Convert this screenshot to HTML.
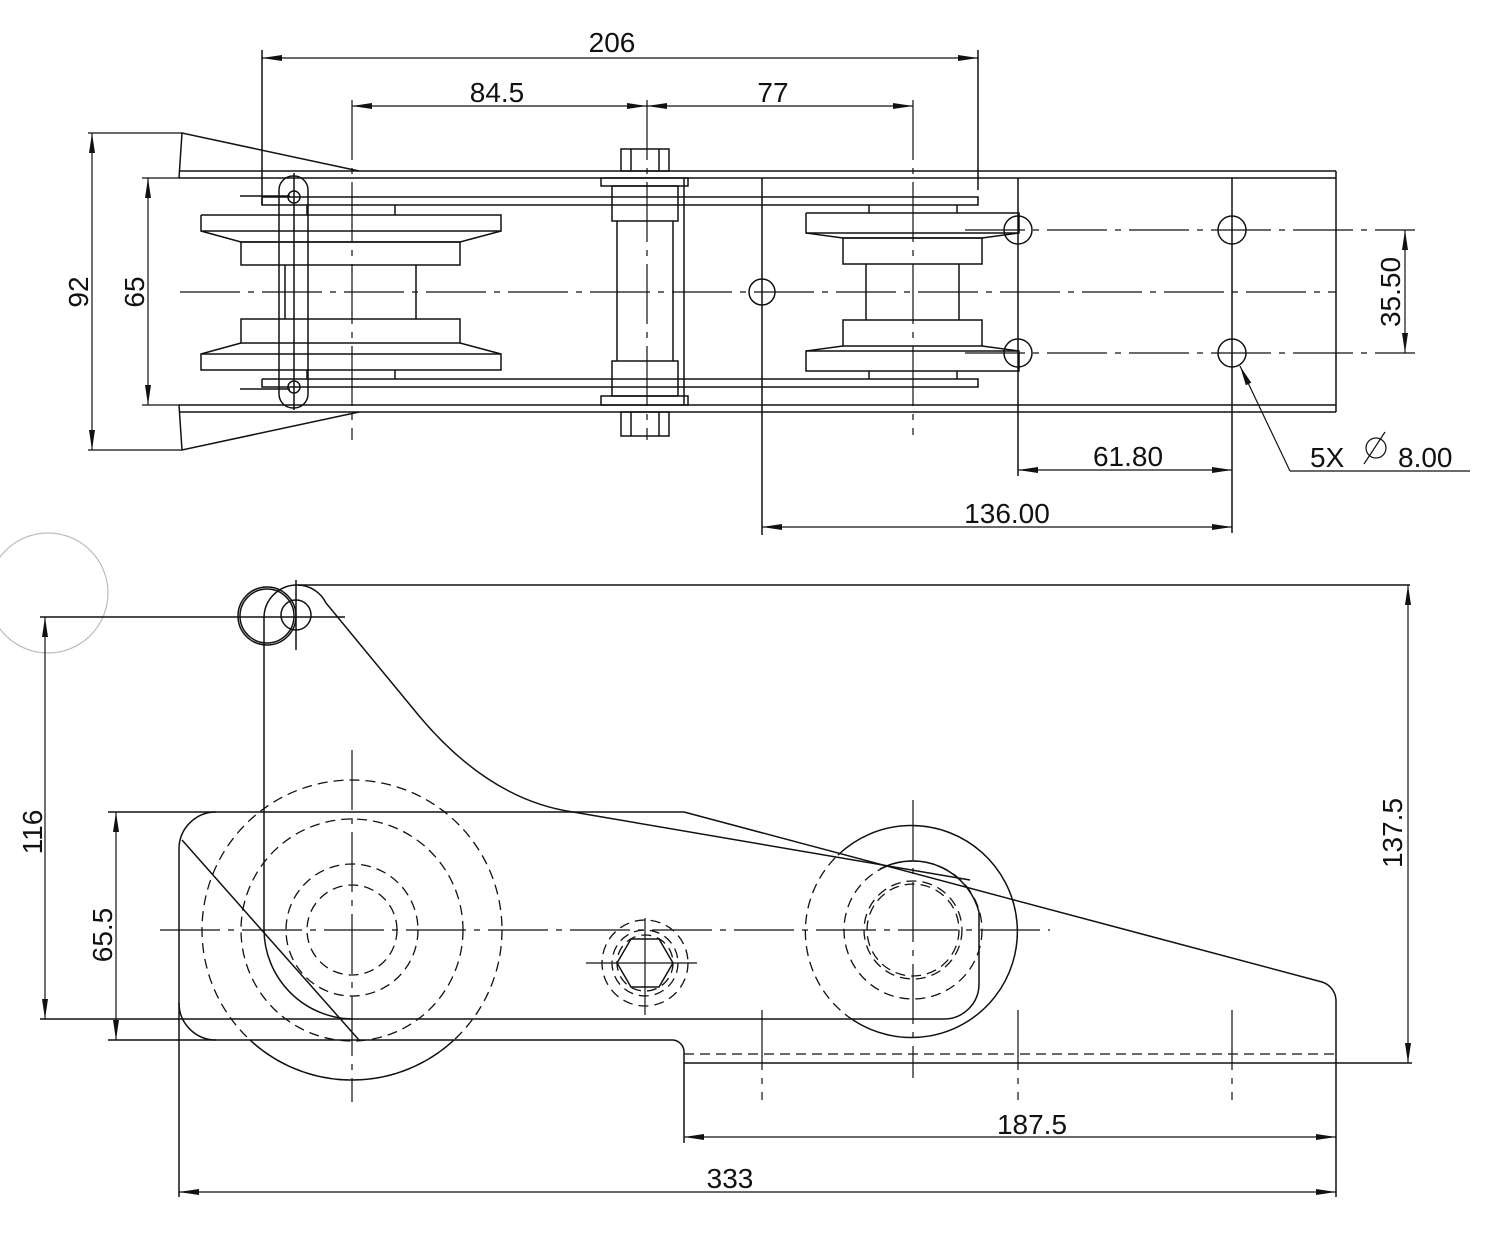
<!DOCTYPE html>
<html><head><meta charset="utf-8"><style>
html,body{margin:0;padding:0;background:#fff}
svg{display:block}
text{font-family:"Liberation Sans",sans-serif;font-size:28px;fill:#111}
</style></head><body>
<svg width="1500" height="1250" viewBox="0 0 1500 1250" xmlns="http://www.w3.org/2000/svg">
<defs>
<marker id="a" viewBox="0 0 20 6" refX="20" refY="3" markerWidth="20" markerHeight="6" markerUnits="userSpaceOnUse" orient="auto-start-reverse"><path d="M0,0 L20,3 L0,6 z" fill="#111"/></marker>
</defs>
<g fill="none" stroke="#111" stroke-width="1.5">
<!-- ===== TOP VIEW ===== -->
<!-- outer plates -->
<line x1="179" y1="171" x2="1336" y2="171"/>
<line x1="179" y1="178" x2="1336" y2="178"/>
<line x1="179" y1="405" x2="1336" y2="405"/>
<line x1="179" y1="412" x2="1336" y2="412"/>
<line x1="1336" y1="171" x2="1336" y2="412"/>
<!-- wedges -->
<polyline points="359,171 182,133 179,178"/>
<polyline points="359,412 182,450 179,405"/>
<!-- inner plates -->
<polyline points="262,197 978,197 978,205 262,205 262,197"/>
<polyline points="262,379 978,379 978,387 262,387 262,379"/>
<!-- left roller -->
<line x1="307" y1="205" x2="307" y2="215"/><line x1="395" y1="205" x2="395" y2="215"/>
<line x1="307" y1="370" x2="307" y2="379"/><line x1="395" y1="370" x2="395" y2="379"/>
<polyline points="201,215 501,215 501,231 460,242 241,242 201,231 201,215"/>
<line x1="201" y1="231" x2="501" y2="231"/>
<rect x="241" y="242" width="219" height="23"/>
<line x1="285" y1="265" x2="285" y2="319"/><line x1="416" y1="265" x2="416" y2="319"/>
<rect x="241" y="319" width="219" height="24"/>
<polyline points="241,343 201,354 201,370 501,370 501,354 460,343"/>
<line x1="201" y1="354" x2="501" y2="354"/>
<!-- slot link -->
<rect x="279" y="176" width="29" height="232" rx="14"/>
<circle cx="294" cy="197" r="6"/><circle cx="294" cy="387" r="6"/>
<line x1="240" y1="196" x2="290" y2="196"/><line x1="240" y1="389" x2="290" y2="389"/>
<line x1="294" y1="173" x2="294" y2="410"/>
<!-- bolt -->
<rect x="621" y="149" width="48" height="22"/><line x1="631" y1="149" x2="631" y2="171"/><line x1="659" y1="149" x2="659" y2="171"/>
<rect x="601" y="178" width="87" height="8"/>
<rect x="612" y="186" width="66" height="35"/>
<line x1="617" y1="221" x2="617" y2="361"/><line x1="673" y1="221" x2="673" y2="361"/>
<rect x="612" y="361" width="66" height="35"/>
<rect x="601" y="396" width="87" height="9"/>
<rect x="621" y="412" width="48" height="24"/><line x1="631" y1="412" x2="631" y2="436"/><line x1="659" y1="412" x2="659" y2="436"/>
<line x1="684" y1="178" x2="684" y2="405"/>
<!-- right roller -->
<line x1="869" y1="205" x2="869" y2="213"/><line x1="957" y1="205" x2="957" y2="213"/>
<line x1="869" y1="371" x2="869" y2="379"/><line x1="957" y1="371" x2="957" y2="379"/>
<polyline points="806,213 1019,213 1019,233 982,238 843,238 806,233 806,213"/>
<line x1="806" y1="233" x2="1019" y2="233"/>
<rect x="843" y="238" width="139" height="26"/>
<line x1="866" y1="264" x2="866" y2="320"/><line x1="959" y1="264" x2="959" y2="320"/>
<rect x="843" y="320" width="139" height="26"/>
<polyline points="843,346 806,351 806,371 1019,371 1019,351 982,346"/>
<line x1="806" y1="351" x2="1019" y2="351"/>
<!-- holes -->
<circle cx="762" cy="292" r="13"/>
<circle cx="1018" cy="230" r="14"/><circle cx="1018" cy="353" r="14"/>
<circle cx="1232" cy="230" r="14"/><circle cx="1232" cy="353" r="14"/>
<!-- verticals -->
<line x1="762" y1="178" x2="762" y2="535"/>
<line x1="1018" y1="178" x2="1018" y2="476"/>
<line x1="1232" y1="178" x2="1232" y2="533"/>
<line x1="262" y1="50" x2="262" y2="205"/>
<line x1="978" y1="50" x2="978" y2="190"/>
</g>
<!-- center lines top -->
<g fill="none" stroke="#111" stroke-width="1.2" stroke-dasharray="60,8,6,8">
<line x1="180" y1="292" x2="1336" y2="292"/>
<line x1="965" y1="230" x2="1415" y2="230"/>
<line x1="965" y1="353" x2="1415" y2="353"/>
<line x1="352" y1="100" x2="352" y2="440"/>
<line x1="647" y1="100" x2="647" y2="440"/>
<line x1="913" y1="100" x2="913" y2="435"/>
</g>
<!-- top dimensions -->
<g fill="none" stroke="#111" stroke-width="1.2">
<line x1="262" y1="58" x2="978" y2="58" marker-start="url(#a)" marker-end="url(#a)"/>
<line x1="352" y1="106" x2="647" y2="106" marker-start="url(#a)" marker-end="url(#a)"/>
<line x1="647" y1="106" x2="913" y2="106" marker-start="url(#a)" marker-end="url(#a)"/>
<line x1="88" y1="133" x2="182" y2="133"/><line x1="88" y1="450" x2="182" y2="450"/>
<line x1="92" y1="133" x2="92" y2="450" marker-start="url(#a)" marker-end="url(#a)"/>
<line x1="142" y1="178" x2="180" y2="178"/><line x1="142" y1="405" x2="180" y2="405"/>
<line x1="148" y1="178" x2="148" y2="405" marker-start="url(#a)" marker-end="url(#a)"/>
<line x1="1405" y1="230" x2="1405" y2="353" marker-start="url(#a)" marker-end="url(#a)"/>
<line x1="1018" y1="470" x2="1232" y2="470" marker-start="url(#a)" marker-end="url(#a)"/>
<line x1="762" y1="527" x2="1232" y2="527" marker-start="url(#a)" marker-end="url(#a)"/>
<line x1="1290" y1="471" x2="1240" y2="366" marker-end="url(#a)"/>
<line x1="1290" y1="471" x2="1470" y2="471"/>
<line x1="1364" y1="464" x2="1385" y2="432"/>
<circle cx="1376" cy="448" r="10"/>
</g>
<text x="612" y="52" text-anchor="middle">206</text>
<text x="497" y="102" text-anchor="middle">84.5</text>
<text x="773" y="102" text-anchor="middle">77</text>
<text x="1128" y="466" text-anchor="middle">61.80</text>
<text x="1007" y="523" text-anchor="middle">136.00</text>
<text x="1310" y="467">5X</text>
<text x="1398" y="467">8.00</text>
<text transform="translate(88,292) rotate(-90)" text-anchor="middle">92</text>
<text transform="translate(144,292) rotate(-90)" text-anchor="middle">65</text>
<text transform="translate(1400,292) rotate(-90)" text-anchor="middle">35.50</text>

<!-- ===== SIDE VIEW ===== -->
<circle cx="48" cy="593" r="60" fill="none" stroke="#bbb" stroke-width="1.2"/>
<g fill="none" stroke="#111" stroke-width="1.5">
<!-- lug and upper profile -->
<path d="M264,930 L264,617 A33,33 0 0 1 298,585 L1410,585"/>
<path d="M298,585 A32,32 0 0 1 326,603 L420,717 Q490,800 573,812 L970,880"/>
<circle cx="296" cy="615" r="15"/>
<circle cx="267" cy="616" r="29"/><circle cx="267" cy="616" r="27"/>
<path d="M264,930 A90,90 0 0 0 352,1019"/>
<line x1="40" y1="617" x2="345" y2="617"/>
<line x1="296" y1="580" x2="296" y2="650"/>
<!-- plate -->
<path d="M684,812 L216,812 A37,37 0 0 0 179,849 L179,1003 A37,37 0 0 0 216,1040 L673,1040 A12,12 0 0 1 684,1052 L684,1063 L1336,1063 L1336,1000 A20,20 0 0 0 1322,982 L684,812"/>
<line x1="108" y1="812" x2="216" y2="812"/>
<line x1="108" y1="1040" x2="216" y2="1040"/>
<path d="M40,1019 L944,1019 A35,35 0 0 0 979,984 L979,912"/>
<path d="M979,912 A69,69 0 0 0 880,869"/>
<line x1="182" y1="840" x2="359" y2="1040"/>
<!-- left hub arcs -->
<path d="M250,1040 A150,150 0 0 0 454,1040"/>
<!-- right hub -->
<path d="M838,855 A106,106 0 1 1 853,1020"/>
<!-- hex -->
<polygon points="617,963 631,939 659,939 673,963 659,987 631,987"/>
<!-- extensions -->
<line x1="179" y1="1003" x2="179" y2="1197"/>
<line x1="1336" y1="1063" x2="1336" y2="1197"/>
<line x1="684" y1="1063" x2="684" y2="1143"/>
<line x1="1336" y1="1063" x2="1412" y2="1063"/>
</g>
<g fill="none" stroke="#111" stroke-width="1.3" stroke-dasharray="10,6">
<circle cx="352" cy="930" r="150"/>
<circle cx="352" cy="930" r="111"/>
<circle cx="352" cy="930" r="66"/>
<circle cx="352" cy="930" r="45"/>
<path d="M853,1020 A106,106 0 0 1 838,855"/>
<circle cx="913" cy="930" r="69"/>
<circle cx="913" cy="930" r="49"/>
<circle cx="913" cy="930" r="46"/>
<circle cx="645" cy="963" r="43"/>
<circle cx="645" cy="963" r="33"/>
<circle cx="645" cy="963" r="28"/>
<line x1="684" y1="1054" x2="1336" y2="1054"/>
</g>
<g fill="none" stroke="#111" stroke-width="1.2" stroke-dasharray="60,8,6,8">
<line x1="160" y1="930" x2="1050" y2="930"/>
<line x1="352" y1="750" x2="352" y2="1102"/>
<line x1="913" y1="800" x2="913" y2="1078"/>
<line x1="762" y1="1010" x2="762" y2="1100"/>
<line x1="1018" y1="1010" x2="1018" y2="1100"/>
<line x1="1232" y1="1010" x2="1232" y2="1100"/>
</g>
<g fill="none" stroke="#111" stroke-width="1.2">
<line x1="586" y1="963" x2="697" y2="963"/>
<line x1="645" y1="918" x2="645" y2="1015"/>
<line x1="45" y1="617" x2="45" y2="1019" marker-start="url(#a)" marker-end="url(#a)"/>
<line x1="116" y1="812" x2="116" y2="1040" marker-start="url(#a)" marker-end="url(#a)"/>
<line x1="1408" y1="585" x2="1408" y2="1063" marker-start="url(#a)" marker-end="url(#a)"/>
<line x1="684" y1="1137" x2="1336" y2="1137" marker-start="url(#a)" marker-end="url(#a)"/>
<line x1="179" y1="1192" x2="1336" y2="1192" marker-start="url(#a)" marker-end="url(#a)"/>
</g>
<text x="1032" y="1134" text-anchor="middle">187.5</text>
<text x="730" y="1188" text-anchor="middle">333</text>
<text transform="translate(42,832) rotate(-90)" text-anchor="middle">116</text>
<text transform="translate(112,935) rotate(-90)" text-anchor="middle">65.5</text>
<text transform="translate(1402,833) rotate(-90)" text-anchor="middle">137.5</text>
</svg>
</body></html>
